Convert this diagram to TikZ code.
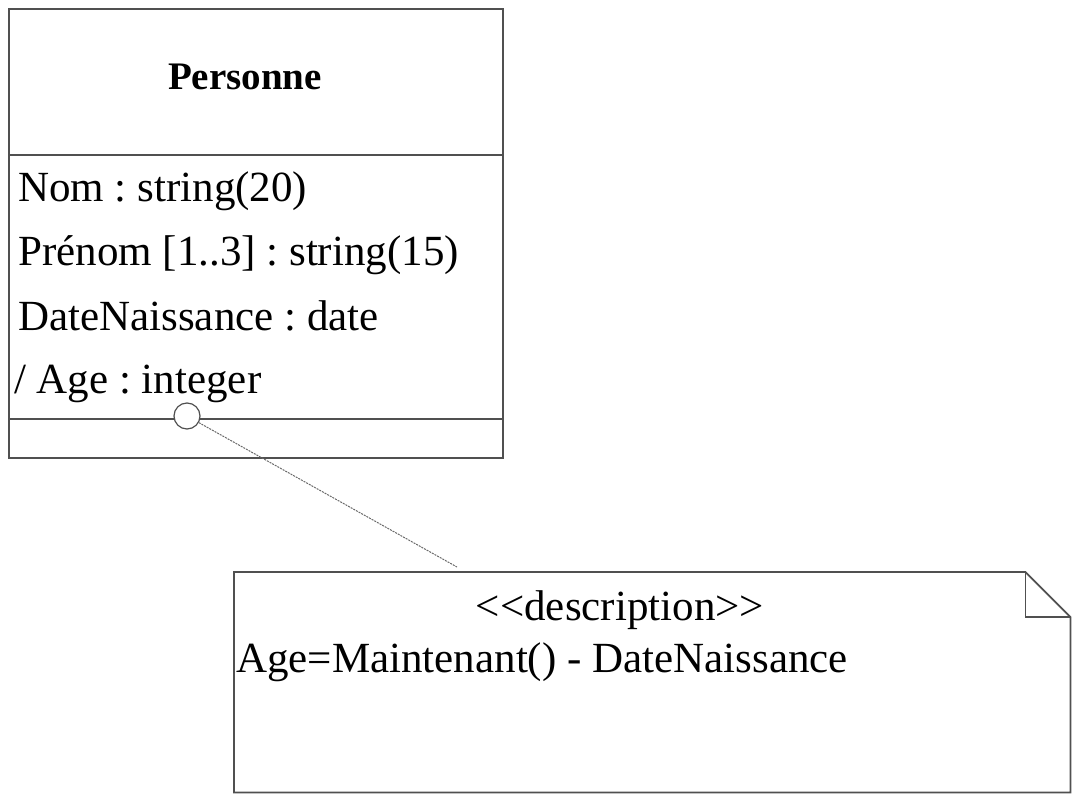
\documentclass[tikz,border=0pt]{standalone}
\usepackage{fontspec}
\setmainfont{Liberation Serif}
\frenchspacing
\definecolor{linegray}{RGB}{80,80,80}
\definecolor{dotgray}{RGB}{105,105,105}
\begin{document}
\begin{tikzpicture}[x=1pt,y=-1pt,
  boxline/.style={draw=linegray, line width=1.7pt},
  attr/.style={anchor=base west, inner sep=0pt, font=\fontsize{43}{50}\selectfont},
  notetxt/.style={inner sep=0pt, font=\fontsize{43}{50}\selectfont},
  anchorlink/.style={draw=dotgray, line width=1pt, dash pattern=on 2pt off 1pt}
]
\useasboundingbox (0,0) rectangle (1077,800);
% class box
\node[boxline, minimum width=494pt, minimum height=449pt, anchor=north west, inner sep=0pt] (cls) at (8,8) {};
\draw[boxline] (cls.west |- 0,155) coordinate (sep1) -- (cls.east |- 0,155) coordinate (sep1e);
\draw[boxline] (cls.west |- 0,419) coordinate (sep2) -- (cls.east |- 0,419) coordinate (sep2e);
\node[anchor=base, inner sep=0pt, font=\fontsize{39}{46}\selectfont\bfseries] (title) at (245,89) {Personne};
\node[attr] (a1) at (18,201) {Nom : string(20)};
\node[attr] (a2) at (18,265) {Prénom [1..3] : string(15)};
\node[attr] (a3) at (18,330) {DateNaissance : date};
\node[attr] (a4) at (14,393) {/ Age : integer};
% anchor circle
\node[circle, draw=linegray, line width=1.2pt, fill=white, minimum size=26pt, inner sep=0pt] (lol) at (187,416) {};
% note
\node[minimum width=836pt, minimum height=220pt, anchor=north west, inner sep=0pt] (note) at (234,572) {};
\draw[boxline, line join=miter] (note.south west) -- (note.north west) -- ([xshift=-45pt]note.north east) coordinate (fold1)
  -- ([yshift=-45pt]note.north east) coordinate (fold2) -- (note.south east) -- cycle;
\draw[boxline] (fold1) -- (fold1 |- fold2) -- (fold2);
\node[notetxt, anchor=base] (stereo) at (620,620) {<\kern0pt<description>\kern0pt>};
\node[notetxt, anchor=base west] (expr) at (236,672) {Age=Maintenant() - DateNaissance};
% connector
\coordinate (notetop) at (457,567);
\draw[anchorlink] (lol) -- (notetop);
\end{tikzpicture}
\end{document}
